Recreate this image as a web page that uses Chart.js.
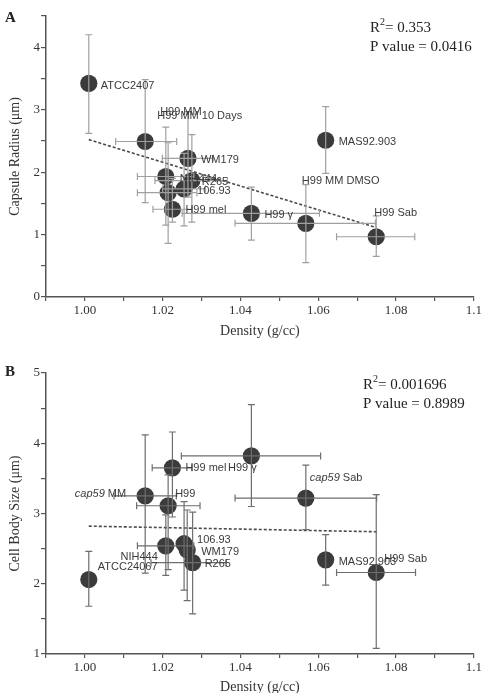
<!DOCTYPE html>
<html><head><meta charset="utf-8">
<script src="https://cdn.jsdelivr.net/npm/chart.js@4.4.0/dist/chart.umd.min.js"></script>
<style>
html,body{margin:0;padding:0;background:#fff;overflow:hidden;width:484px;height:693px;}
#wa{position:absolute;left:0;top:0;width:484px;height:346px;}
#wb{position:absolute;left:0;top:346px;width:484px;height:360px;}
</style></head><body>
<div id="wa"><canvas id="ca" width="484" height="346"></canvas></div>
<div id="wb"><canvas id="cb" width="484" height="360"></canvas></div>
<script>
// ---------- Panel A: capsule radius vs density ----------
const capNames = ['ATCC2407','H99 MM 10 Days','H99 MM','WM179','NIH444','R265','106.93','H99 mel','H99 \u03b3','H99 MM DMSO','H99 Sab','MAS92.903'];
const capDensity = [1.001, 1.0155, 1.0214, 1.0265, 1.0208, 1.0275, 1.0255, 1.0225, 1.0428, 1.0568, 1.0749, 1.0619];
const capRadius = [3.42, 2.49, 1.67, 2.22, 1.93, 1.865, 1.73, 1.405, 1.34, 1.18, 0.965, 2.51];
const capRadiusLow = [2.62, 1.51, 0.86, 1.6, 1.15, 1.2, 1.14, 1.2, 0.91, 0.55, 0.65, 1.98];
const capRadiusHigh = [4.2, 3.48, 2.47, 2.97, 2.72, 2.6, 2.3, 1.9, 1.76, 1.8, 1.3, 3.05];
const capDensityLow = [null, 1.0079, 1.0135, 1.0199, 1.0135, 1.018, 1.020, 1.0175, 1.025, 1.0386, 1.0647, null];
const capDensityHigh = [null, 1.0236, 1.0288, 1.033, 1.028, 1.0366, 1.031, 1.0275, 1.0603, 1.0747, 1.0848, null];
const capFitX = [1.001, 1.075];
const capFitY = [2.52, 1.11];
const capStats = ['0.353', '0.0416'];

// ---------- Panel B: cell body size vs density ----------
const bodyNames = ['ATCC24067','*cap59* MM','H99 mel','H99','H99 \u03b3','*cap59* Sab','NIH444','106.93','WM179','R265','MAS92.903','H99 Sab'];
const bodyDensity = [1.001, 1.0155, 1.0225, 1.0214, 1.0428, 1.0568, 1.0208, 1.0255, 1.0263, 1.0277, 1.0619, 1.0749];
const bodySize = [2.06, 3.25, 3.65, 3.11, 3.82, 3.22, 2.54, 2.57, 2.48, 2.30, 2.34, 2.16];
const bodySizeLow = [1.68, 2.15, 2.95, 2.2, 3.1, 2.77, 2.12, 1.91, 1.76, 1.57, 1.98, 1.08];
const bodySizeHigh = [2.46, 4.12, 4.16, 3.55, 4.55, 3.69, 2.98, 3.17, 3.05, 3.02, 2.7, 3.27];
const bodyDensityLow = [null, 1.0075, 1.0173, 1.0133, 1.0248, 1.0386, 1.0135, null, null, 1.017, null, 1.0647];
const bodyDensityHigh = [null, 1.0235, 1.0275, 1.0296, 1.0606, 1.075, 1.028, null, null, 1.0363, null, 1.085];
const bodyFitX = [1.001, 1.075];
const bodyFitY = [2.82, 2.74];
const bodyStats = ['0.001696', '0.8989'];

// label placement (pixel offsets from each point, style only)
const capLabelPlace = [[12,3,'left'],[12,-26,'left'],[-8,-81,'left'],[13,2,'left'],[14,2,'left'],[10,1,'left'],[13,2,'left'],[13,1,'left'],[13,2,'left'],[-4,-42,'left'],[-2,-24,'left'],[13,2,'left']];
const bodyLabelPlace = [[9,-13,'left'],[-19,-2,'right'],[13,0,'left'],[7,-12,'left'],[-9,12,'center'],[4,-20,'left'],[-8,11,'right'],[13,-4,'left'],[14,2,'left'],[12,1,'left'],[13,2,'left'],[8,-14,'left']];

const SERIF = '"Liberation Serif", "Times New Roman", serif';
const SANS = '"Liberation Sans", Arial, sans-serif';

function drawRich(ctx, text, x, y, align, size, color){
  const parts = text.split('*');
  const fonts = parts.map((p,i)=> (i%2===1?'italic ':'') + size + 'px ' + SANS);
  let widths = parts.map((p,i)=>{ctx.font=fonts[i]; return ctx.measureText(p).width;});
  const total = widths.reduce((a,b)=>a+b,0);
  let sx = x;
  if (align==='right') sx = x - total; else if (align==='center') sx = x - total/2;
  ctx.fillStyle = color; ctx.textBaseline='middle'; ctx.textAlign='left';
  parts.forEach((p,i)=>{ctx.font=fonts[i]; ctx.fillText(p, sx, y); sx += widths[i];});
}

function makeChart(canvasId, cfg){
  const overlay = {
    id:'overlay'+canvasId,
    afterDatasetsDraw(chart){
      const {ctx, scales:{x, y}} = chart;
      ctx.save();
      ctx.strokeStyle = cfg.errColor; ctx.lineWidth = 1.2;
      const cap = 3.5;
      for (let i=0;i<cfg.xs.length;i++){
        const px = x.getPixelForValue(cfg.xs[i]);
        const py = y.getPixelForValue(cfg.ys[i]);
        if (cfg.yLow[i]!=null){
          const a = y.getPixelForValue(cfg.yLow[i]), b = y.getPixelForValue(cfg.yHigh[i]);
          ctx.beginPath();
          ctx.moveTo(px,a); ctx.lineTo(px,b);
          ctx.moveTo(px-cap,a); ctx.lineTo(px+cap,a);
          ctx.moveTo(px-cap,b); ctx.lineTo(px+cap,b);
          ctx.stroke();
        }
        if (cfg.xLow[i]!=null){
          const a = x.getPixelForValue(cfg.xLow[i]), b = x.getPixelForValue(cfg.xHigh[i]);
          ctx.beginPath();
          ctx.moveTo(a,py); ctx.lineTo(b,py);
          ctx.moveTo(a,py-cap); ctx.lineTo(a,py+cap);
          ctx.moveTo(b,py-cap); ctx.lineTo(b,py+cap);
          ctx.stroke();
        }
      }
      for (let i=0;i<cfg.xs.length;i++){
        const px = x.getPixelForValue(cfg.xs[i]);
        const py = y.getPixelForValue(cfg.ys[i]);
        const pl = cfg.place[i];
        drawRich(ctx, cfg.names[i], px+pl[0], py+pl[1], pl[2], 11, '#3a3a3a');
      }
      ctx.fillStyle = '#222'; ctx.textBaseline='middle'; ctx.textAlign='left';
      ctx.font = 'bold 15px ' + SERIF;
      ctx.fillText(cfg.letter, 5, cfg.letterY);
      ctx.font = '15px ' + SERIF;
      const sx = cfg.statX, sy = cfg.statY;
      ctx.fillText('R', sx, sy);
      const rw = ctx.measureText('R').width;
      ctx.font = '10px ' + SERIF;
      ctx.fillText('2', sx+rw, sy-6);
      const w2 = ctx.measureText('2').width;
      ctx.font = '15px ' + SERIF;
      ctx.fillText('= ' + cfg.stats[0], sx+rw+w2, sy);
      ctx.fillText('P value = ' + cfg.stats[1], sx, sy+19);
      ctx.restore();
    }
  };
  const pts = cfg.xs.map((v,i)=>({x:v, y:cfg.ys[i]}));
  const fit = cfg.fitX.map((v,i)=>({x:v, y:cfg.fitY[i]}));
  return new Chart(document.getElementById(canvasId), {
    type:'scatter',
    data:{datasets:[
      {type:'line', data:fit, borderColor:'#4a4a4a', borderWidth:1.6, borderDash:[3,2], pointRadius:0, fill:false, showLine:true},
      {data:pts, pointRadius:8.6, pointHoverRadius:8.6, backgroundColor:'#3b3b3b', borderWidth:0}
    ]},
    options:{
      responsive:false, animation:false, devicePixelRatio:1,
      layout:{padding:{top:cfg.padTop, right:6, left:0, bottom:0}},
      plugins:{legend:{display:false}, tooltip:{enabled:false}},
      scales:{
        x:{type:'linear', min:0.99, max:1.10,
          afterFit(s){ s.height = cfg.xHeight; },
          border:{display:true, color:'#555', width:1.5},
          grid:{drawOnChartArea:false, drawTicks:true, tickLength:4, color:'#555', lineWidth:1.2},
          ticks:{stepSize:0.01, autoSkip:false, maxRotation:0, padding:2, color:'#333',
            font:{family:SERIF, size:13},
            callback(v){ const k = Math.round(v*100); if (k<100 || k%2) return ''; return k===110 ? '1.1' : (k/100).toFixed(2); }},
          title:{display:true, text:'Density (g/cc)', color:'#333', font:{family:SERIF, size:14}, padding:{top:2, bottom:cfg.xTitlePad}}
        },
        y:{type:'linear', min:cfg.yMin, max:cfg.yMax,
          afterFit(s){ s.width = 46; },
          border:{display:true, color:'#555', width:1.5},
          grid:{drawOnChartArea:false, drawTicks:true, tickLength:5, color:'#555', lineWidth:1.2},
          ticks:{stepSize:0.5, autoSkip:false, padding:1, color:'#333',
            font:{family:SERIF, size:13},
            callback(v){ return Math.abs(v-Math.round(v))<1e-6 ? String(Math.round(v)) : ''; }},
          title:{display:true, text:cfg.yTitle, color:'#333', font:{family:SERIF, size:14}, padding:{top:7, bottom:0}}
        }
      }
    },
    plugins:[overlay]
  });
}

makeChart('ca', {
  xs:capDensity, ys:capRadius, yLow:capRadiusLow, yHigh:capRadiusHigh, xLow:capDensityLow, xHigh:capDensityHigh,
  names:capNames, place:capLabelPlace, fitX:capFitX, fitY:capFitY, stats:capStats,
  errColor:'#a0a0a0', padTop:16, xHeight:49, xTitlePad:6, yMin:0, yMax:4.5,
  yTitle:'Capsule Radius (\u03bcm)', letter:'A', letterY:18, statX:370, statY:28
});
makeChart('cb', {
  xs:bodyDensity, ys:bodySize, yLow:bodySizeLow, yHigh:bodySizeHigh, xLow:bodyDensityLow, xHigh:bodyDensityHigh,
  names:bodyNames, place:bodyLabelPlace, fitX:bodyFitX, fitY:bodyFitY, stats:bodyStats,
  errColor:'#6e6e6e', padTop:27, xHeight:52, xTitlePad:10, yMin:1, yMax:5,
  yTitle:'Cell Body Size (\u03bcm)', letter:'B', letterY:26, statX:363, statY:39
});
</script>
</body></html>
